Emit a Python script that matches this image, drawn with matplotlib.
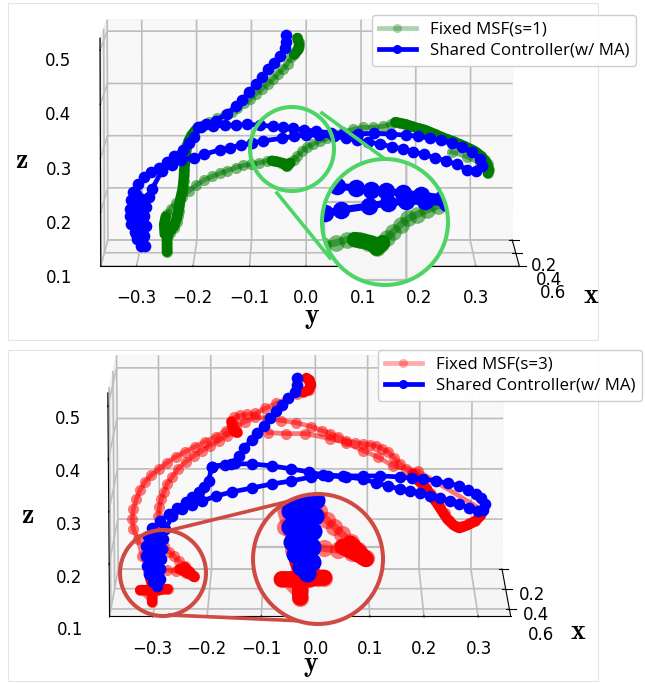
import numpy as np
import matplotlib
matplotlib.use("Agg")
import matplotlib.pyplot as plt
from matplotlib.lines import Line2D
from matplotlib.patches import Circle, Rectangle
from mpl_toolkits.mplot3d import proj3d

nan = float("nan")

# ---- top chart: y, z (depth kept on the back wall)
shared1_y = [-0.036,-0.036,-0.038,-0.048,-0.059,-0.070,-0.081,-0.092,-0.104,-0.117,-0.129,-0.145,-0.165,-0.183,-0.197,
             -0.205,-0.214,-0.226,-0.241,-0.255,-0.269,-0.284,-0.296,-0.307,-0.316,-0.321,-0.323,-0.323,-0.320,-0.314,-0.309,-0.303,
             -0.296,-0.296,-0.294,-0.296,-0.294,-0.287,-0.282,-0.264,-0.246,-0.228,-0.206,-0.187,-0.158,-0.140,-0.120,-0.099,-0.079,
             -0.045,-0.022,0.000,0.023,0.050,0.072,0.092,0.113,0.135,0.156,0.176,0.196,0.215,0.235,0.255,0.275,0.294,0.311,0.321,
             0.318,0.303,0.285,0.266,0.246,0.226,0.205,0.183,0.154,0.124,0.095,0.068,0.045,0.018,-0.004,-0.025,-0.043,-0.061,-0.084,
             -0.108,-0.129,-0.149,-0.171,-0.192,
             nan,-0.311,-0.307,-0.305,-0.303,-0.302,-0.300,
             nan,-0.316,-0.316,-0.314,-0.311,
             nan,-0.300,-0.300,-0.298,-0.298]
shared1_z = [0.493,0.480,0.467,0.453,0.440,0.427,0.412,0.399,0.384,0.369,0.356,0.342,0.329,0.322,0.316,
             0.297,0.286,0.273,0.262,0.250,0.239,0.230,0.220,0.207,0.192,0.177,0.160,0.145,0.130,0.115,0.102,0.089,
             0.089,0.108,0.126,0.145,0.164,0.183,0.198,0.232,0.243,0.254,0.258,0.264,0.273,0.277,0.282,0.286,0.290,
             0.295,0.299,0.301,0.301,0.299,0.295,0.292,0.288,0.284,0.279,0.275,0.269,0.264,0.258,0.252,0.245,0.235,0.233,0.241,
             0.256,0.269,0.279,0.286,0.292,0.295,0.299,0.301,0.303,0.305,0.303,0.303,0.305,0.309,0.311,0.314,0.316,0.318,0.320,
             0.322,0.320,0.320,0.318,0.316,
             nan,0.188,0.170,0.151,0.132,0.113,0.098,
             nan,0.179,0.156,0.134,0.111,
             nan,0.179,0.156,0.134,0.111]
fixed1_y = [-0.016,-0.013,-0.013,-0.016,-0.022,-0.027,-0.034,-0.043,-0.052,-0.061,-0.070,-0.081,-0.092,-0.102,-0.113,-0.126,
            -0.136,-0.149,-0.163,-0.178,-0.192,-0.203,-0.210,-0.215,-0.219,-0.221,-0.221,-0.223,-0.223,-0.224,-0.224,-0.226,
            -0.228,-0.230,-0.232,-0.233,-0.235,-0.237,-0.242,-0.250,-0.255,-0.255,-0.255,-0.255,
            -0.259,-0.259,-0.255,-0.248,-0.239,-0.228,-0.215,-0.201,-0.187,-0.172,-0.158,-0.144,-0.129,-0.115,-0.101,-0.086,-0.072,
            -0.057,-0.047,-0.039,-0.036,-0.031,-0.023,-0.016,-0.007,0.002,0.013,0.025,0.038,0.050,0.068,0.086,0.104,0.122,0.140,
            0.154,0.163,0.171,0.181,0.192,0.203,0.214,0.224,0.235,0.246,0.257,0.268,0.278,0.289,0.300,0.311,0.320,0.327,0.332,
            0.334,0.332,0.318,0.293,0.266]
fixed1_z = [0.487,0.480,0.472,0.465,0.457,0.450,0.438,0.427,0.418,0.408,0.399,0.389,0.380,0.371,0.363,0.354,
            0.346,0.339,0.333,0.326,0.318,0.311,0.301,0.292,0.280,0.269,0.258,0.247,0.235,0.224,0.213,0.202,
            0.190,0.179,0.168,0.156,0.145,0.134,0.123,0.113,0.104,0.094,0.085,0.077,
            0.119,0.132,0.149,0.160,0.171,0.183,0.194,0.205,0.215,0.222,0.228,0.233,0.239,0.243,0.245,0.248,0.252,
            0.252,0.248,0.245,0.241,0.247,0.254,0.262,0.271,0.279,0.284,0.290,0.295,0.303,0.307,0.312,0.316,0.316,0.318,
            0.322,0.326,0.324,0.322,0.318,0.314,0.311,0.307,0.303,0.297,0.294,0.290,0.284,0.280,0.275,0.269,0.262,0.254,0.245,
            0.235,0.228,0.247,0.260,0.269]
# stretches where the fixed trace piles up into a solid band
dense1_y = [-0.016,-0.013,-0.014,-0.022,nan,
            -0.199,-0.208,-0.215,-0.219,-0.221,-0.223,-0.224,-0.226,-0.230,-0.233,-0.237,-0.242,-0.251,-0.255,-0.255,-0.255,nan,
            -0.259,-0.260,-0.257,nan,
            -0.063,-0.052,-0.041,-0.036,-0.029,nan,
            0.163,0.181,0.199,0.217,0.235,0.253,0.271,0.289,0.307,0.321,0.330,0.334,0.332]
dense1_z = [0.487,0.476,0.465,0.455,nan,
            0.314,0.303,0.290,0.273,0.254,0.235,0.217,0.198,0.179,0.160,0.141,0.126,0.115,0.100,0.085,0.077,nan,
            0.111,0.130,0.145,nan,
            0.252,0.250,0.247,0.241,0.248,nan,
            0.326,0.322,0.316,0.311,0.303,0.295,0.288,0.280,0.271,0.260,0.247,0.235,0.228]

# ---- bottom chart
shared2_y = [-0.036,-0.036,-0.038,-0.052,-0.063,-0.075,-0.086,-0.098,-0.111,-0.122,-0.136,-0.147,-0.155,-0.174,-0.199,
             -0.205,-0.214,-0.224,-0.237,-0.249,-0.266,-0.281,-0.298,-0.314,-0.323,-0.327,-0.327,-0.325,-0.321,-0.314,-0.306,
             -0.300,-0.300,-0.298,-0.296,-0.294,-0.289,-0.275,-0.256,-0.237,-0.218,-0.191,-0.161,-0.122,-0.084,-0.046,-0.008,
             0.025,0.059,0.092,0.117,0.140,0.163,0.182,0.201,0.220,0.239,0.258,0.277,0.296,0.312,0.323,0.327,0.319,0.308,0.293,
             0.277,0.254,0.231,0.207,0.185,0.163,0.124,0.092,0.054,0.015,-0.013,-0.046,-0.084,-0.122,-0.161,-0.199,
             nan,-0.312,-0.312,-0.310,-0.310,-0.308,
             nan,-0.319,-0.319,-0.319,-0.317,-0.315,
             nan,-0.304,-0.304,-0.304,-0.304,-0.304]
shared2_z = [0.480,0.466,0.452,0.440,0.426,0.414,0.400,0.386,0.372,0.358,0.342,0.326,0.312,0.308,0.304,
             0.276,0.264,0.254,0.244,0.234,0.222,0.210,0.196,0.182,0.166,0.146,0.126,0.106,0.090,0.074,0.066,
             0.080,0.100,0.120,0.140,0.160,0.180,0.206,0.220,0.228,0.236,0.246,0.254,0.262,0.270,0.276,0.284,
             0.286,0.284,0.280,0.272,0.266,0.260,0.256,0.252,0.246,0.242,0.236,0.230,0.222,0.216,0.218,0.230,0.242,0.250,0.258,
             0.266,0.272,0.276,0.280,0.282,0.284,0.286,0.286,0.286,0.288,0.294,0.300,0.306,0.310,0.310,0.304,
             nan,0.166,0.146,0.126,0.106,0.086,
             nan,0.166,0.146,0.126,0.106,0.086,
             nan,0.166,0.146,0.126,0.106,0.086]
fixed2_y = [-0.015,-0.011,-0.013,-0.023,-0.036,-0.052,-0.075,-0.096,-0.115,-0.130,-0.145,-0.155,-0.159,-0.155,-0.153,
            -0.170,-0.185,-0.203,-0.218,-0.233,-0.249,-0.264,-0.275,-0.285,-0.291,-0.296,-0.300,-0.302,-0.300,-0.291,
            -0.281,-0.272,-0.262,-0.252,-0.243,-0.233,-0.250,-0.268,-0.285,-0.300,
            -0.293,-0.304,-0.285,-0.315,-0.327,-0.338,-0.315,-0.315,-0.315,-0.319,-0.323,
            -0.333,-0.342,-0.350,-0.352,-0.350,-0.344,-0.337,-0.327,-0.315,-0.300,-0.285,-0.268,-0.250,-0.231,-0.212,-0.191,-0.172,
            -0.153,-0.134,-0.115,-0.090,-0.065,-0.038,-0.008,0.013,0.029,0.044,0.059,0.076,0.092,0.105,0.117,0.128,0.140,0.151,
            0.163,0.174,0.187,0.197,0.212,0.222,0.231,0.239,0.249,0.258,0.270,0.283,0.296,0.308,0.315,0.321,
            0.197,0.149,0.120,0.092,0.059,0.029,-0.019,-0.057,-0.090]
fixed2_z = [0.476,0.468,0.456,0.452,0.448,0.440,0.430,0.420,0.410,0.408,0.406,0.402,0.392,0.382,0.374,
            0.366,0.356,0.346,0.336,0.326,0.314,0.300,0.284,0.270,0.254,0.240,0.224,0.206,0.176,0.146,
            0.134,0.126,0.116,0.106,0.096,0.086,0.092,0.096,0.098,0.100,
            0.060,0.058,0.060,0.058,0.058,0.058,0.034,0.044,0.070,0.084,0.096,
            0.126,0.160,0.180,0.200,0.220,0.240,0.258,0.274,0.288,0.300,0.312,0.324,0.334,0.344,0.354,0.364,0.376,
            0.386,0.394,0.402,0.400,0.396,0.392,0.384,0.376,0.370,0.364,0.356,0.352,0.350,0.348,0.346,0.340,0.334,0.322,
            0.310,0.300,0.290,0.278,0.264,0.250,0.238,0.226,0.212,0.198,0.186,0.186,0.192,0.196,0.206,0.218,
            0.296,0.306,0.324,0.336,0.352,0.360,0.370,0.370,0.372]
dense2_y = [-0.023,-0.013,-0.008,-0.011,-0.017,nan,
            -0.161,-0.159,-0.155,-0.149,nan,
            -0.262,-0.250,-0.239,-0.233,-0.252,nan,
            -0.338,-0.327,-0.315,-0.304,-0.293,-0.285,nan,
            -0.315,-0.315,-0.315,-0.319,nan,
            0.187,0.197,0.212,0.224,0.235,0.245,0.254,0.266,0.277,0.293,0.308,0.319]
dense2_z = [0.452,0.456,0.466,0.476,0.480,nan,
            0.394,0.384,0.374,0.372,nan,
            0.100,0.094,0.088,0.084,0.104,nan,
            0.058,0.058,0.058,0.058,0.060,0.060,nan,
            0.034,0.044,0.070,0.084,nan,
            0.290,0.278,0.262,0.246,0.230,0.214,0.200,0.188,0.182,0.188,0.196,0.208]

y_ticks = [-0.3, -0.2, -0.1, 0.0, 0.1, 0.2, 0.3]
z_ticks = [0.1, 0.2, 0.3, 0.4, 0.5]
x_ticks = [0.2, 0.4, 0.6]

plt.rcParams["mathtext.fontset"] = "cm"
fig = plt.figure(figsize=(6.45, 6.83), dpi=100)
W, H = 645, 683
FIXED_MS, SHARED_MS, FIXED_LW, SHARED_LW = 8.0, 8.4, 3.4, 3.4
FIXED_ALPHA = 0.52
DENSE_LW = 7.5


def rect(l, t, r, b):
    return [l / W, 1 - b / H, (r - l) / W, (b - t) / H]


def panel(box, fixed_y, fixed_z, dense_y, dense_z, shared_y, shared_z, fixed_color, xlim, ylim, zlim, elev, azim, aspect, zoom, focal):
    ax = fig.add_axes(rect(*box), projection="3d")
    ax.patch.set_alpha(0)
    ax.set_proj_type("persp", focal_length=focal)
    ax.view_init(elev=elev, azim=azim)
    ax.set_box_aspect(aspect, zoom=zoom)
    x0 = xlim[0]
    ax.plot([x0] * len(fixed_y), fixed_y, fixed_z, "-o", color=fixed_color, alpha=FIXED_ALPHA,
            lw=FIXED_LW, ms=FIXED_MS, mew=0, clip_on=False)
    ax.plot([x0] * len(dense_y), dense_y, dense_z, "-", color=fixed_color, lw=DENSE_LW,
            solid_capstyle="round", solid_joinstyle="round", clip_on=False)
    ax.plot([x0] * len(shared_y), shared_y, shared_z, "-o", color="#0000ff", lw=SHARED_LW, ms=SHARED_MS,
            mew=0, clip_on=False)
    ax.set_xlim(*xlim)
    ax.set_ylim(*ylim)
    ax.set_zlim(*zlim)
    ax.set_xticks(x_ticks)
    ax.set_yticks(y_ticks)
    ax.set_zticks(z_ticks)
    ax.tick_params(labelsize=12)
    ax.tick_params(axis="x", pad=1)
    ax.tick_params(axis="z", pad=3)
    ax.tick_params(axis="y", pad=2)
    for a in (ax.xaxis, ax.yaxis, ax.zaxis):
        a._axinfo["grid"]["linewidth"] = 1.2
        a._axinfo["grid"]["color"] = "#bdbdbd"
    ax.computed_zorder = False
    return ax


ax1 = panel((-4, -5, 616, 295), fixed1_y, fixed1_z, dense1_y, dense1_z, shared1_y, shared1_z, "#007b00",
            (0.2, 0.6), (-0.363, 0.377), (0.1, 0.522), 5.7, 0, (1.0, 1.83, 1.0), 1.685, 4.0)
ax2 = panel((-4, 335, 616, 640), fixed2_y, fixed2_z, dense2_y, dense2_z, shared2_y, shared2_z, "#ff0000",
            (0.2, 0.67), (-0.38, 0.36), (0.1, 0.525), 11, 0, (1.0, 1.77, 1.0), 1.605, 3.0)

fig.canvas.draw()

over = fig.add_axes([0, 0, 1, 1], zorder=3)
over.set_xlim(0, W)
over.set_ylim(H, 0)
over.axis("off")


def to_px(ax, xs, ys, zs):
    a, b, _ = proj3d.proj_transform(np.array(xs, float), np.array(ys, float), np.array(zs, float), ax.get_proj())
    d = ax.transData.transform(np.c_[a, b])
    return d[:, 0] * W / fig.bbox.width, H - d[:, 1] * H / fig.bbox.height


def magnifier(ax, src, src_r, dst, dst_r, anchor_s, anchor_t, mag, fixed, dense, shared, fixed_color, ring, links):
    for p, q in links:
        over.plot([p[0], q[0]], [p[1], q[1]], color=ring, lw=2.6, zorder=2)
    over.add_patch(Circle(src, src_r, fc="none", ec=ring, lw=2.9, zorder=6))
    back = Circle(dst, dst_r, fc="#f6f6f6", ec="none", zorder=3)
    over.add_patch(back)

    def mapped(px, py):
        return anchor_t[0] + mag * (np.asarray(px) - anchor_s[0]), anchor_t[1] + mag * (np.asarray(py) - anchor_s[1])

    x0 = ax.get_xlim()[0]
    for v in y_ticks:
        px, py = to_px(ax, [x0, x0], [v, v], list(ax.get_zlim()))
        a, b = mapped(px, py)
        over.plot(a, b, color="#bdbdbd", lw=1.6, zorder=3.5)[0].set_clip_path(back)
    for v in z_ticks:
        px, py = to_px(ax, [x0, x0], list(ax.get_ylim()), [v, v])
        a, b = mapped(px, py)
        over.plot(a, b, color="#bdbdbd", lw=1.6, zorder=3.5)[0].set_clip_path(back)

    px, py = to_px(ax, [x0] * len(fixed[0]), fixed[0], fixed[1])
    a, b = mapped(px, py)
    ln, = over.plot(a, b, "-o", color=fixed_color, alpha=FIXED_ALPHA, lw=FIXED_LW * mag, ms=FIXED_MS * mag, mew=0, zorder=4)
    ln.set_clip_path(back)
    px, py = to_px(ax, [x0] * len(dense[0]), dense[0], dense[1])
    a, b = mapped(px, py)
    ln, = over.plot(a, b, "-", color=fixed_color, lw=DENSE_LW * mag, solid_capstyle="round",
                    solid_joinstyle="round", zorder=4.5)
    ln.set_clip_path(back)
    px, py = to_px(ax, [x0] * len(shared[0]), shared[0], shared[1])
    a, b = mapped(px, py)
    ln, = over.plot(a, b, "-o", color="#0000ff", lw=SHARED_LW * mag, ms=SHARED_MS * mag, mew=0, zorder=5)
    ln.set_clip_path(back)
    over.add_patch(Circle(dst, dst_r, fc="none", ec=ring, lw=2.9, zorder=6))


magnifier(ax1, (292, 149), 42, (385, 222), 63, (292, 149), (385, 222), 1.5,
          (fixed1_y, fixed1_z), (dense1_y, dense1_z), (shared1_y, shared1_z), "#007b00", "#4cd564",
          [((277, 193), (330, 258)), ((322, 113), (385, 159))])
magnifier(ax2, (163, 573), 43, (318, 559), 65, (152, 588), (300, 576), 1.55,
          (fixed2_y, fixed2_z), (dense2_y, dense2_z), (shared2_y, shared2_z), "#ff0000", "#cf4a42",
          [((167, 531), (290, 501)), ((170, 615), (303, 621))])

for tx, ty, s in [(591, 295, "x"), (312, 317, "y"), (22, 160, "z"), (578, 631, "x"), (311, 665, "y"), (28, 515, "z")]:
    over.text(tx, ty, r"$\mathbf{%s}$" % s, fontsize=20, ha="center", va="center")

legend_font = {"family": "Open Sans", "size": 12.2}
shared_handle = Line2D([], [], color="#0000ff", marker="o", lw=SHARED_LW, ms=6.5, mew=0)
fig.legend([Line2D([], [], color="#007b00", alpha=0.32, marker="o", lw=SHARED_LW, ms=6.5, mew=0), shared_handle],
           ["Fixed MSF(s=1)", "Shared Controller(w/ MA)"], loc="upper left",
           bbox_to_anchor=(372 / W, 1 - 15 / H), prop=legend_font, framealpha=0.95, borderaxespad=0,
           handlelength=2.2, labelspacing=0.3, handletextpad=0.8, borderpad=0.4)
fig.legend([Line2D([], [], color="#ff0000", alpha=0.32, marker="o", lw=SHARED_LW, ms=6.5, mew=0), shared_handle],
           ["Fixed MSF(s=3)", "Shared Controller(w/ MA)"], loc="upper left",
           bbox_to_anchor=(378 / W, 1 - 350 / H), prop=legend_font, framealpha=0.95, borderaxespad=0,
           handlelength=2.2, labelspacing=0.3, handletextpad=0.8, borderpad=0.4)

for l, t, r, b in [(8, 3, 598, 340), (8, 350, 598, 681)]:
    fig.add_artist(Rectangle((l / W, 1 - b / H), (r - l) / W, (b - t) / H, transform=fig.transFigure,
                             fc="none", ec="#e4e4e4", lw=0.8, zorder=-1))

fig.savefig("out.png", dpi=100)
